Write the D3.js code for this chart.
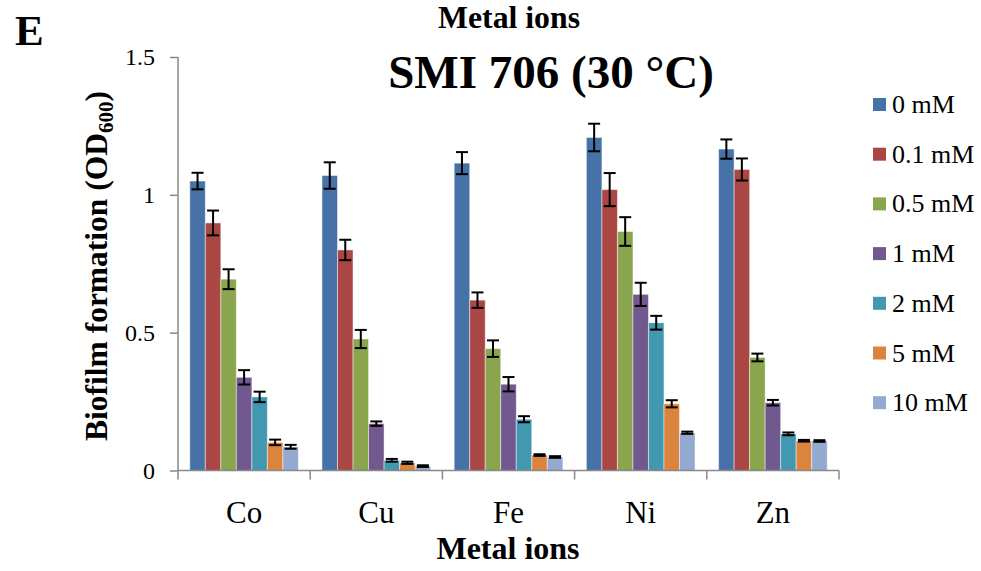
<!DOCTYPE html>
<html>
<head>
<meta charset="utf-8">
<script src="https://cdn.jsdelivr.net/npm/d3@7"></script>
<style>
  html, body { margin: 0; padding: 0; background: #fff; }
  svg { display: block; font-family: "Liberation Serif", "Times New Roman", serif; }
</style>
</head>
<body>
<svg id="chart" width="981" height="571"></svg>
<script>
// Metal ions tested and concentrations applied
const categories = ["Co", "Cu", "Fe", "Ni", "Zn"];
const seriesNames = ["0 mM", "0.1 mM", "0.5 mM", "1 mM", "2 mM", "5 mM", "10 mM"];
const seriesColors = ["#4672A8", "#AA4644", "#89A54E", "#71588F", "#4198AF", "#DB843D", "#93A9CF"];

// Mean biofilm formation (OD600) per concentration, ordered as categories
const v0mM   = [1.050, 1.070, 1.115, 1.208, 1.166];
const v01mM  = [0.898, 0.800, 0.618, 1.019, 1.092];
const v05mM  = [0.694, 0.477, 0.442, 0.867, 0.410];
const v1mM   = [0.338, 0.170, 0.313, 0.639, 0.246];
const v2mM   = [0.267, 0.037, 0.186, 0.536, 0.133];
const v5mM   = [0.102, 0.028, 0.056, 0.242, 0.108];
const v10mM  = [0.086, 0.016, 0.049, 0.137, 0.107];

// Standard deviations
const e0mM   = [0.030, 0.048, 0.040, 0.050, 0.035];
const e01mM  = [0.045, 0.037, 0.028, 0.060, 0.040];
const e05mM  = [0.036, 0.033, 0.030, 0.052, 0.014];
const e1mM   = [0.026, 0.008, 0.026, 0.042, 0.010];
const e2mM   = [0.019, 0.005, 0.011, 0.025, 0.005];
const e5mM   = [0.010, 0.004, 0.003, 0.013, 0.003];
const e10mM  = [0.007, 0.003, 0.003, 0.004, 0.003];

const yTicks = [0, 0.5, 1, 1.5];
const yTickLabels = ["0", "0.5", "1", "1.5"];

const values = [v0mM, v01mM, v05mM, v1mM, v2mM, v5mM, v10mM];
const errors = [e0mM, e01mM, e05mM, e1mM, e2mM, e5mM, e10mM];

const svg = d3.select("#chart");
const axisColor = "#898989";
const serif = "Liberation Serif, Times New Roman, serif";

const x = d3.scaleBand().domain(categories).range([178, 839]).paddingInner(0).paddingOuter(0);
const xs = d3.scaleBand().domain(seriesNames).range([0, x.bandwidth()]).paddingInner(0).paddingOuter(0.76);
const y = d3.scaleLinear().domain([0, 1.5]).range([470.5, 57]);

// Flattened records for drawing
const records = [];
seriesNames.forEach((s, si) => {
  categories.forEach((c, ci) => {
    records.push({ s, si, c, v: values[si][ci], e: errors[si][ci] });
  });
});

// Bars
svg.append("g").selectAll("rect").data(records).join("rect")
  .attr("x", d => x(d.c) + xs(d.s))
  .attr("y", d => y(d.v))
  .attr("width", xs.bandwidth())
  .attr("height", d => y(0) - y(d.v))
  .attr("fill", d => seriesColors[d.si])
  .attr("stroke", "rgba(255,255,255,0.45)")
  .attr("stroke-width", 1);

// Error bars
const eb = svg.append("g").attr("stroke", "#000").attr("stroke-width", 2);
const capW = 6;
records.forEach(d => {
  const cx = x(d.c) + xs(d.s) + xs.bandwidth() / 2;
  const top = y(d.v + d.e), bot = y(d.v - d.e);
  eb.append("line").attr("x1", cx).attr("x2", cx).attr("y1", top).attr("y2", bot);
  eb.append("line").attr("x1", cx - capW).attr("x2", cx + capW).attr("y1", top).attr("y2", top);
  eb.append("line").attr("x1", cx - capW).attr("x2", cx + capW).attr("y1", bot).attr("y2", bot);
});

// Y axis
const yAxis = d3.axisLeft(y).tickValues(yTicks).tickSize(8)
  .tickFormat((d, i) => yTickLabels[i]);
const gy = svg.append("g").attr("transform", "translate(178,0)").call(yAxis);
gy.select(".domain").attr("stroke", axisColor).attr("stroke-width", 1.5).attr("d", `M0,${y(1.5)}V${y(0)}`);
gy.selectAll(".tick line").attr("stroke", axisColor).attr("stroke-width", 1.5);
gy.selectAll(".tick text")
  .attr("x", -23)
  .attr("font-size", 24)
  .attr("font-family", serif)
  .attr("fill", "#000");

// X axis: ticks at category boundaries
const gx = svg.append("g");
gx.append("line").attr("x1", 178).attr("x2", 839).attr("y1", y(0)).attr("y2", y(0))
  .attr("stroke", axisColor).attr("stroke-width", 1.5);
const boundaries = categories.map(c => x(c)).concat([x(categories[categories.length - 1]) + x.bandwidth()]);
gx.selectAll("line.tk").data(boundaries).join("line").attr("class", "tk")
  .attr("x1", d => d).attr("x2", d => d).attr("y1", y(0)).attr("y2", y(0) + 9)
  .attr("stroke", axisColor).attr("stroke-width", 1.5);
gx.selectAll("text").data(categories).join("text")
  .attr("x", d => x(d) + x.bandwidth() / 2)
  .attr("y", 523)
  .attr("text-anchor", "middle")
  .attr("font-size", 31)
  .attr("fill", "#000")
  .text(d => d);

// Titles
svg.append("text").attr("x", 15).attr("y", 45)
  .attr("font-size", 43).attr("font-weight", "bold")
  .text("E");

svg.append("text").attr("x", 509).attr("y", 27.5).attr("text-anchor", "middle")
  .attr("font-size", 30.5).attr("font-weight", "bold")
  .attr("textLength", 142).attr("lengthAdjust", "spacingAndGlyphs")
  .text("Metal ions");

svg.append("text").attr("x", 551).attr("y", 88).attr("text-anchor", "middle")
  .attr("font-size", 47).attr("font-weight", "bold")
  .text("SMI 706 (30 °C)");

svg.append("text").attr("x", 508).attr("y", 559).attr("text-anchor", "middle")
  .attr("font-size", 32).attr("font-weight", "bold")
  .text("Metal ions");

// Y axis title with subscript
const yt = svg.append("text")
  .attr("transform", "translate(107,266) rotate(-90)")
  .attr("text-anchor", "middle")
  .attr("font-size", 31.5).attr("font-weight", "bold");
yt.append("tspan").text("Biofilm formation (OD");
yt.append("tspan").attr("font-size", 21).attr("dy", 6).text("600");
yt.append("tspan").attr("dy", -6).text(")");

// Legend
const lg = svg.append("g");
seriesNames.forEach((s, i) => {
  const cy = 104.5 + i * 49.7;
  lg.append("rect").attr("x", 873).attr("y", cy - 6.5).attr("width", 13).attr("height", 13)
    .attr("fill", seriesColors[i]);
  lg.append("text").attr("x", 892).attr("y", cy + 8.5)
    .attr("font-size", 26).attr("fill", "#000").text(s);
});
</script>
</body>
</html>
